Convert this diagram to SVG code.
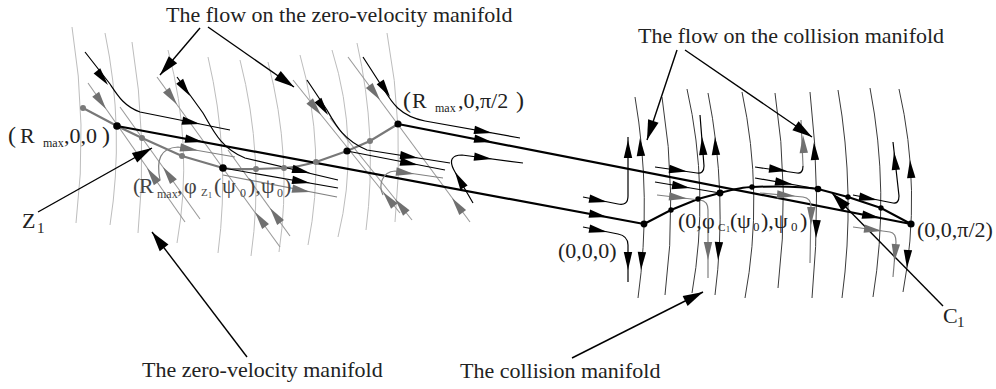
<svg xmlns="http://www.w3.org/2000/svg" xmlns:xlink="http://www.w3.org/1999/xlink" width="996" height="389" viewBox="0 0 996 389">
<style>
.za{fill:none;stroke:#bdbdbd;stroke-width:1}
.ca{fill:none;stroke:#3a3a3a;stroke-width:1}
.gd{fill:none;stroke:#9a9a9a;stroke-width:1.1}
.thick{fill:none;stroke:#000;stroke-width:2.2}
.gcurve{fill:none;stroke:#787878;stroke-width:2.2}
.ccurve{fill:none;stroke:#000;stroke-width:2}
.fl{fill:none;stroke:#000;stroke-width:1.2}
.gfl{fill:none;stroke:#808080;stroke-width:1.2}
.ann{fill:none;stroke:#000;stroke-width:1.4}
.bh{fill:#000}
.gh{fill:#707070}
.bn{fill:#000}
.gn{fill:#7a7a7a}
text{font-family:"Liberation Serif","Times New Roman",serif;fill:#222;font-size:22px}
.lg{fill:#444}
</style>
<defs>
<path id="a" d="M0,0 L-18,-4.2 L-18,4.2 Z"/>
<path id="b" d="M0,0 L-20,-5.5 L-20,5.5 Z"/>
</defs>

<g id="connectors">
 <g id="zero-velocity-grid" class="za">
  <path d="M72,27 Q88,125 76,223"/>
  <path d="M105,33 Q125,129 110,225"/>
  <path d="M132,42 Q148,138 138,233"/>
  <path d="M168,50 Q194,147 177,243"/>
  <path d="M208,57 Q231,155 218,253"/>
  <path d="M240,60 Q265,158 251,256"/>
  <path d="M268,62 Q293,157 279,252"/>
  <path d="M300,55 Q327,150 308,245"/>
  <path d="M332,50 Q361,143 338,237"/>
  <path d="M357,43 Q378,136 366,230"/>
  <path d="M387,33 Q405,128 395,222"/>
 </g>
 <g id="collision-grid" class="ca">
  <path d="M635,97 Q652,197 638,298"/>
  <path d="M662,97 Q678,196 665,295"/>
  <path d="M687,89 Q710,191 692,293"/>
  <path d="M708,93 Q728,194 715,295"/>
  <path d="M742,92 Q764,195 745,298"/>
  <path d="M775,93 Q790,190 778,288"/>
  <path d="M810,92 Q822,195 812,298"/>
  <path d="M838,90 Q856,194 842,298"/>
  <path d="M870,88 Q890,192 873,297"/>
  <path d="M899,89 Q922,190 903,292"/>
 </g>
 <g id="zero-velocity-diagonals" class="gd">
  <path d="M88,83 L185,222"/>
  <path d="M120,107 L200,219"/>
  <path d="M157,77 L280,247"/>
  <path d="M228,150 L290,236"/>
  <path d="M293,80 L400,213"/>
  <path d="M330,118 L412,220"/>
  <path d="M348,57 L470,222"/>
 </g>
 <path class="gcurve" d="M83,108 L117,126 L142,138 L182,156 L223,168 C235,170 245,169 256,169 L284,168 C296,167 305,165 316,162 L347,151 L370,141 L398,124"/>
 <path class="thick" d="M117,126 L644,224"/>
 <path class="thick" d="M398,124 L911,224"/>
 <path class="ccurve" d="M644,224 L671,210 L698,199 L720,193 C735,189 745,187 752,187 C775,186 800,186 818,189 L848,197 L881,208 L911,224"/>
 <g class="fl">
  <path d="M85,52 L110,84 C118,96 124,106 140,112 L230,130"/>
  <path d="M177,77 L203,113 C212,128 220,148 245,158 L338,180"/>
  <path d="M223,168 L338,188"/>
  <path d="M307,80 L327,110 C335,124 343,140 367,150 L450,163"/>
  <path d="M347,151 L445,170"/>
  <path d="M363,57 L383,88 C392,103 400,116 425,121 L520,138"/>
  <path d="M473,203 L455,172 C448,160 452,155 462,155 L523,163"/>
  <path d="M583,197 L618,204 Q628,206 628,196 L628,137"/>
  <path d="M583,227 L618,234 Q628,236 628,245 L628,282"/>
  <path d="M655,167 L697,173 Q704,174 704,166 L700,115"/>
  <path d="M655,182 L720,193"/>
  <path d="M755,167 L797,173 Q803,174 803,166"/>
  <path d="M755,178 L818,189"/>
  <path d="M853,195 L893,203 Q899,204 899,196 L893,142"/>
 </g>
 <g class="gfl">
  <path d="M160,180 C156,160 160,148 178,147 L235,157"/>
  <path d="M223,175 L337,197"/>
  <path d="M383,195 C378,185 382,172 395,171 L443,178"/>
  <path d="M657,195 L700,200 Q708,201 708,210 L708,278"/>
  <path d="M803,166 L801,120"/>
  <path d="M760,193 L803,197 Q811,198 811,207 L810,263"/>
  <path d="M853,227 L890,232 Q896,233 896,242 L893,277"/>
 </g>
 <g class="ann">
  <path d="M200,28 L160,75"/>
  <path d="M208,27 L294,87"/>
  <path d="M677,50 L647,140"/>
  <path d="M685,50 L812,137"/>
  <path d="M247,357 L152,232"/>
  <path d="M572,358 L703,292"/>
  <path d="M38,212 L152,148"/>
  <path d="M943,306 L832,193"/>
 </g>
 <g id="arrowheads-black" class="bh">
  <use xlink:href="#a" transform="translate(108,85) rotate(52)"/>
  <use xlink:href="#a" transform="translate(200,124) rotate(11)"/>
  <use xlink:href="#a" transform="translate(203,142) rotate(10.5)"/>
  <use xlink:href="#a" transform="translate(607,217) rotate(10.5)"/>
  <use xlink:href="#a" transform="translate(190,96) rotate(55)"/>
  <use xlink:href="#a" transform="translate(310,173) rotate(13)"/>
  <use xlink:href="#a" transform="translate(310,183) rotate(10)"/>
  <use xlink:href="#a" transform="translate(328,115) rotate(56)"/>
  <use xlink:href="#a" transform="translate(418,158) rotate(9)"/>
  <use xlink:href="#a" transform="translate(418,165) rotate(11)"/>
  <use xlink:href="#a" transform="translate(390,97) rotate(57)"/>
  <use xlink:href="#a" transform="translate(492,133) rotate(10)"/>
  <use xlink:href="#a" transform="translate(492,142) rotate(11)"/>
  <use xlink:href="#a" transform="translate(880,218) rotate(11)"/>
  <use xlink:href="#a" transform="translate(455,172) rotate(240)"/>
  <use xlink:href="#a" transform="translate(492,159) rotate(7.5)"/>
  <use xlink:href="#a" transform="translate(607,202) rotate(11)"/>
  <use xlink:href="#a" transform="translate(628,140) rotate(-90)"/>
  <use xlink:href="#a" transform="translate(607,232) rotate(11)"/>
  <use xlink:href="#a" transform="translate(628,270) rotate(90)"/>
  <use xlink:href="#a" transform="translate(687,171.5) rotate(8)"/>
  <use xlink:href="#a" transform="translate(702,137) rotate(-94)"/>
  <use xlink:href="#a" transform="translate(690,188) rotate(9.6)"/>
  <use xlink:href="#a" transform="translate(787,171) rotate(8)"/>
  <use xlink:href="#a" transform="translate(793,184.5) rotate(10)"/>
  <use xlink:href="#a" transform="translate(877,200) rotate(11)"/>
  <use xlink:href="#a" transform="translate(894,152) rotate(-96)"/>
  <use xlink:href="#a" transform="translate(640,138) rotate(-93)"/>
  <use xlink:href="#a" transform="translate(641,270) rotate(93)"/>
  <use xlink:href="#a" transform="translate(715,137) rotate(-93)"/>
  <use xlink:href="#a" transform="translate(718,260) rotate(93)"/>
  <use xlink:href="#a" transform="translate(814,142) rotate(-93)"/>
  <use xlink:href="#a" transform="translate(816,238) rotate(92)"/>
  <use xlink:href="#a" transform="translate(910,160) rotate(-94)"/>
  <use xlink:href="#a" transform="translate(907,268) rotate(93)"/>
 </g>
 <g id="arrowheads-grey" class="gh">
  <use xlink:href="#a" transform="translate(198,150.5) rotate(10)"/>
  <use xlink:href="#a" transform="translate(310,192) rotate(11)"/>
  <use xlink:href="#a" transform="translate(414,174) rotate(8)"/>
  <use xlink:href="#a" transform="translate(106,109) rotate(55)"/>
  <use xlink:href="#a" transform="translate(147,168) rotate(235)"/>
  <use xlink:href="#a" transform="translate(163,167) rotate(234.5)"/>
  <use xlink:href="#a" transform="translate(177,104.6) rotate(54)"/>
  <use xlink:href="#a" transform="translate(255,212) rotate(234)"/>
  <use xlink:href="#a" transform="translate(270,208) rotate(234)"/>
  <use xlink:href="#a" transform="translate(321,115) rotate(51)"/>
  <use xlink:href="#a" transform="translate(383,192) rotate(231)"/>
  <use xlink:href="#a" transform="translate(395,199) rotate(231)"/>
  <use xlink:href="#a" transform="translate(380,100) rotate(53.5)"/>
  <use xlink:href="#a" transform="translate(452,198) rotate(233.5)"/>
  <use xlink:href="#a" transform="translate(687,198.5) rotate(6.6)"/>
  <use xlink:href="#a" transform="translate(708,260) rotate(90)"/>
  <use xlink:href="#a" transform="translate(803,135) rotate(-92.5)"/>
  <use xlink:href="#a" transform="translate(795,196) rotate(5.3)"/>
  <use xlink:href="#a" transform="translate(811,225) rotate(91)"/>
  <use xlink:href="#a" transform="translate(882,231) rotate(7.7)"/>
  <use xlink:href="#a" transform="translate(894.3,262) rotate(95)"/>
 </g>
 <g id="annotation-heads" class="bh">
  <use xlink:href="#b" transform="translate(160,75) rotate(130.4)"/>
  <use xlink:href="#b" transform="translate(294,87) rotate(34.9)"/>
  <use xlink:href="#b" transform="translate(647,140) rotate(108.4)"/>
  <use xlink:href="#b" transform="translate(812,137) rotate(34.4)"/>
  <use xlink:href="#b" transform="translate(152,232) rotate(-127.2)"/>
  <use xlink:href="#b" transform="translate(703,292) rotate(-26.7)"/>
  <use xlink:href="#b" transform="translate(152,148) rotate(-29.3)"/>
  <use xlink:href="#b" transform="translate(832,193) rotate(-134)"/>
 </g>
</g>

<g id="grey-points" class="gn">
 <circle cx="83" cy="108" r="3"/>
 <circle cx="142" cy="138" r="3"/>
 <circle cx="182" cy="156" r="3"/>
 <circle cx="256" cy="169" r="3"/>
 <circle cx="284" cy="168" r="3"/>
 <circle cx="316" cy="162" r="3"/>
 <circle cx="370" cy="141" r="3"/>
</g>
<g id="collision-points" class="bn">
 <circle cx="671" cy="210" r="2.7"/>
 <circle cx="698" cy="199" r="2.7"/>
 <circle cx="752" cy="187" r="2.7"/>
 <circle cx="818" cy="189" r="3.3"/>
 <circle cx="848" cy="197" r="2.7"/>
 <circle cx="881" cy="208" r="2.7"/>
</g>
<g id="n-rmax-0-0">
 <circle class="bn" cx="117" cy="126" r="3.8"/>
 <text y="143"><tspan x="8" font-size="24">(</tspan><tspan x="20">R</tspan><tspan x="43" y="147" font-size="12">max</tspan><tspan x="64" y="143">,0,0</tspan><tspan x="102" font-size="24">)</tspan></text>
</g>
<g id="n-rmax-0-pi2">
 <circle class="bn" cx="398" cy="124" r="3.6"/>
 <text y="108"><tspan x="403" font-size="24">(</tspan><tspan x="412">R</tspan><tspan x="435" y="112" font-size="12">max</tspan><tspan x="458" y="108">,0,π/2</tspan><tspan x="516" font-size="24">)</tspan></text>
</g>
<g id="n-z1">
 <circle class="bn" cx="223" cy="168" r="3.8"/>
 <text class="lg" y="193"><tspan x="133">(</tspan><tspan x="139">R</tspan><tspan x="157" y="198" font-size="12">max</tspan><tspan x="177" y="193">,</tspan><tspan x="184">φ</tspan><tspan x="201" y="196" font-size="11">Z</tspan><tspan x="208" y="198" font-size="8">1</tspan><tspan x="214" y="193">(</tspan><tspan x="222">ψ</tspan><tspan x="240" y="197" font-size="12">0</tspan><tspan x="248" y="193">),</tspan><tspan x="261">ψ</tspan><tspan x="277" y="197" font-size="12">0</tspan><tspan x="284" y="193">)</tspan></text>
 <text x="22" y="228">Z<tspan x="37" y="233" font-size="15">1</tspan></text>
</g>
<g id="n-347">
 <circle class="bn" cx="347" cy="151" r="3.6"/>
</g>
<g id="n-0-0-0">
 <circle class="bn" cx="644" cy="224" r="3.4"/>
 <text x="558" y="258">(0,0,0)</text>
</g>
<g id="n-c1">
 <circle class="bn" cx="720" cy="193" r="3.4"/>
 <text y="228"><tspan x="678">(0,</tspan><tspan x="702">φ</tspan><tspan x="718" y="231" font-size="11">C</tspan><tspan x="726" y="232" font-size="8">1</tspan><tspan x="730" y="228">(</tspan><tspan x="737">ψ</tspan><tspan x="753" y="231" font-size="13">0</tspan><tspan x="761" y="228">),</tspan><tspan x="774">ψ</tspan><tspan x="791" y="231" font-size="13">0</tspan><tspan x="800" y="228">)</tspan></text>
 <text x="943" y="323">C<tspan x="957" y="327" font-size="15">1</tspan></text>
</g>
<g id="n-0-0-pi2">
 <circle class="bn" cx="911" cy="224" r="3.6"/>
 <text x="917" y="237">(0,0,π/2)</text>
</g>
<g id="labels">
 <text x="166" y="22">The flow on the zero-velocity manifold</text>
 <text x="638" y="43">The flow on the collision manifold</text>
 <text x="142" y="377">The zero-velocity manifold</text>
 <text x="460" y="378">The collision manifold</text>
</g>
</svg>
